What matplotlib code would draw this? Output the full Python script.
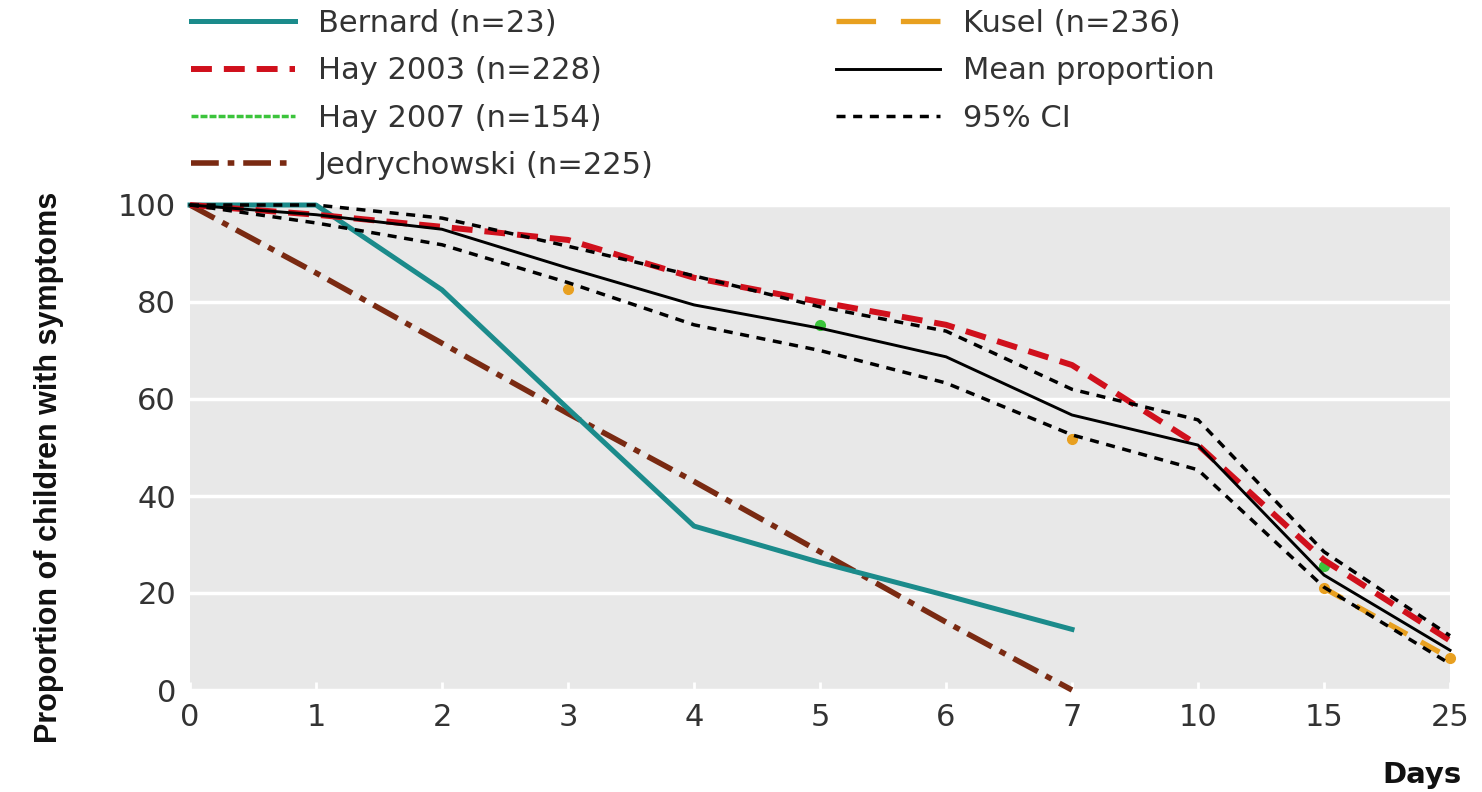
import numpy as np
import matplotlib.pyplot as plt
from matplotlib.lines import Line2D

# ---- data ----
days = ['0', '1', '2', '3', '4', '5', '6', '7', '10', '15', '25']
nan = np.nan

bernard = [100, 100, 82.5, 58, 33.8, 26.3, 19.5, 12.5]          # days 0..7
jedry = [100, 86, 71.5, 57, 43, 28.5, 14, 0]                   # days 0..7
hay2003 = [100, 98, 95.5, 92.8, 85, 80, 75.3, 67, 50.5, 26.8, 10.2]
# only the bits of these two that show from under the other lines
hay2007 = [nan, nan, nan, nan, nan, 75.2, nan, nan, nan, 25.5, nan]
kusel = [nan, nan, nan, 82.6, nan, nan, nan, 51.8, nan, 21.0, 6.6]
mean_prop = [100, 98, 95, 87, 79.4, 74.6, 68.7, 56.7, 50.5, 23.7, 8.2]
ci_upper = [100, 100, 97.3, 91.5, 85.4, 79, 74, 62, 55.7, 28.5, 11.2]
ci_lower = [100, 96.3, 91.8, 84, 75.3, 70, 63.3, 52.6, 45.4, 21.2, 5.4]

x = np.arange(len(days))

fig = plt.figure(figsize=(14.82, 7.92), dpi=100)
ax = fig.add_axes([190/1482, 102/792, 1260/1482, 485/792])
ax.set_facecolor('#e8e8e8')

# lines hidden mostly underneath the others go first
ax.plot(x, kusel, color='#e8a020', lw=3.8, ls=(0, (4, 3)), marker='o', ms=7,
        label='Kusel (n=236)', zorder=2, clip_on=False)
ax.plot(x, hay2007, color='#3cc43c', lw=2.5, ls=(0, (2, 0.6)), marker='o', ms=7,
        label='Hay 2007 (n=154)', zorder=2, clip_on=False)
ax.plot(x[:len(jedry)], jedry, color='#7a2a12', lw=4.0, ls=(0, (5, 1.6, 1.2, 1.6)),
        label='Jedrychowski (n=225)', zorder=3, clip_on=False)
ax.plot(x[:len(bernard)], bernard, color='#1b8b8b', lw=3.6,
        label='Bernard (n=23)', zorder=4, clip_on=False)
ax.plot(x, hay2003, color='#d0101c', lw=4.3, ls=(0, (3.5, 2)),
        label='Hay 2003 (n=228)', zorder=5, clip_on=False)
ax.plot(x, mean_prop, color='black', lw=2.1, label='Mean proportion', zorder=6, clip_on=False)
ax.plot(x, ci_upper, color='black', lw=2.5, ls=(0, (2.6, 2.2)), label='95% CI',
        zorder=7, clip_on=False)
ax.plot(x, ci_lower, color='black', lw=2.5, ls=(0, (2.6, 2.2)), zorder=7, clip_on=False)

ax.set_xlim(0, len(days) - 1)
ax.set_ylim(0, 100)
ax.set_xticks(x)
ax.set_xticklabels(days)
ax.set_yticks([0, 20, 40, 60, 80, 100])
ax.yaxis.grid(True, color='white', lw=2.5)
ax.set_axisbelow(True)
for s in ax.spines.values():
    s.set_visible(False)
ax.tick_params(axis='x', direction='in', length=6, width=2, color='white',
               labelsize=22, labelcolor='#333333', pad=9)
ax.tick_params(axis='y', length=0, labelsize=22, labelcolor='#333333', pad=10)

ax.set_ylabel('Proportion of children with symptoms', fontsize=22, fontweight='bold',
              family=['Liberation Sans', 'DejaVu Sans'], color='#111111')
ax.yaxis.set_label_coords(-0.100, 0.458)
fig.text(1422/1482, 1 - 775/792, 'Days', fontsize=21, fontweight='bold',
         ha='center', va='center', color='#111111')

# legend in two blocks, like the original
h, l = ax.get_legend_handles_labels()
hd = dict(zip(l, h))
hd['Kusel (n=236)'] = Line2D([], [], color='#e8a020', lw=3.8, ls=(0, (7.5, 4.7)))
hd['Hay 2007 (n=154)'] = Line2D([], [], color='#3cc43c', lw=2.5, ls=(0, (2, 0.6)))
col1 = ['Bernard (n=23)', 'Hay 2003 (n=228)', 'Hay 2007 (n=154)', 'Jedrychowski (n=225)']
col2 = ['Kusel (n=236)', 'Mean proportion', '95% CI']
kw = dict(frameon=False, fontsize=22, loc='upper left', handlelength=3.4,
          handletextpad=0.75, labelspacing=0.6, labelcolor='#333333',
          borderaxespad=0, borderpad=0.2)
fig.legend([hd[k] for k in col1], col1, bbox_to_anchor=(185/1482, 1 - 3/792), **kw)
fig.legend([hd[k] for k in col2], col2, bbox_to_anchor=(830/1482, 1 - 3/792), **kw)

fig.savefig('out.png', dpi=100)
